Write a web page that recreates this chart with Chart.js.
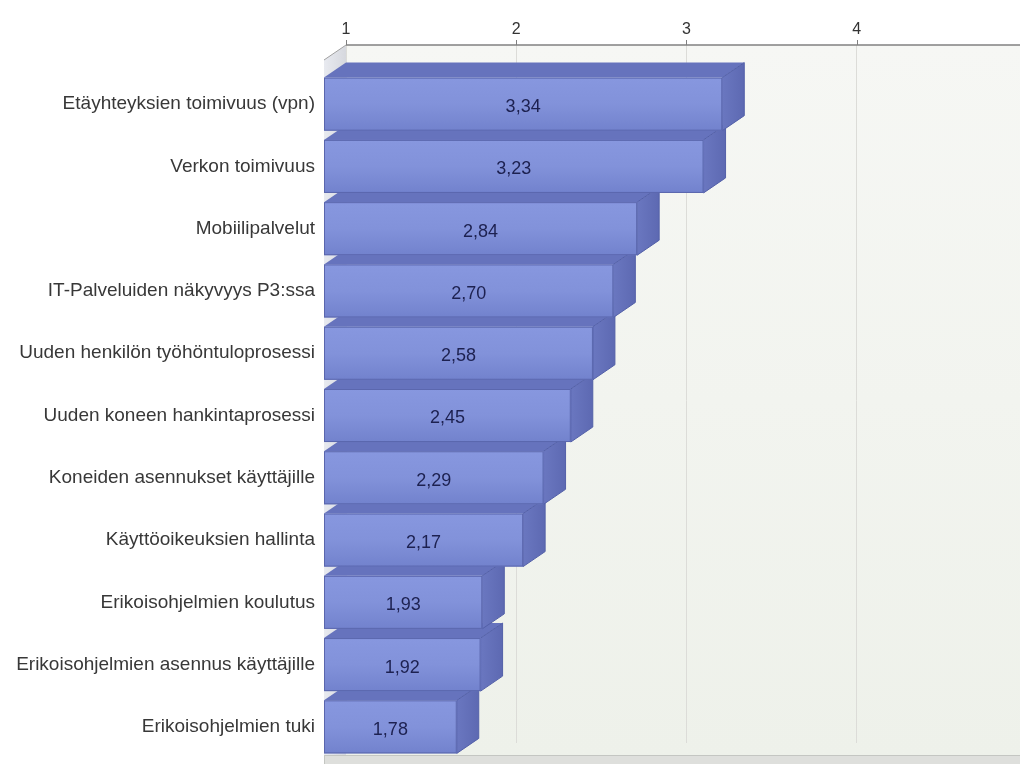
<!DOCTYPE html>
<html>
<head>
<meta charset="utf-8">
<script src="https://cdn.jsdelivr.net/npm/chart.js@4"></script>
<style>
  html, body { margin: 0; padding: 0; background: #fff; overflow: hidden; }
  #wrap { width: 1020px; height: 764px; }
</style>
</head>
<body>
<div id="wrap"><canvas id="chart"></canvas></div>
<script>
const categories = [
    'Etäyhteyksien toimivuus (vpn)',
    'Verkon toimivuus',
    'Mobiilipalvelut',
    'IT-Palveluiden näkyvyys P3:ssa',
    'Uuden henkilön työhöntuloprosessi',
    'Uuden koneen hankintaprosessi',
    'Koneiden asennukset käyttäjille',
    'Käyttöoikeuksien hallinta',
    'Erikoisohjelmien koulutus',
    'Erikoisohjelmien asennus käyttäjille',
    'Erikoisohjelmien tuki'
];
const scores = [3.34, 3.23, 2.84, 2.70, 2.58, 2.45, 2.29, 2.17, 1.93, 1.92, 1.78];
const tickValues = [1, 2, 3, 4];

// 3d depth of the bars (front face is shifted left/down)
const DX = 22, DY = 15;
const WALL_TOP = 13;

const fmt = v => v.toFixed(2).replace('.', ',');

const threeD = {
    id: 'threeD',
    beforeDraw(chart) {
        const { ctx, chartArea: a } = chart;
        const top = a.top - WALL_TOP;
        const floorY = a.bottom + 12;
        ctx.save();
        // back wall
        const bg = ctx.createLinearGradient(0, top, 0, floorY);
        bg.addColorStop(0, '#f6f7f4');
        bg.addColorStop(1, '#eef1ea');
        ctx.fillStyle = bg;
        ctx.fillRect(a.left, top, a.right - a.left, floorY - top);
        // left wall
        const lg = ctx.createLinearGradient(a.left - DX, 0, a.left, 0);
        lg.addColorStop(0, '#e8eaf0');
        lg.addColorStop(1, '#d6d8de');
        ctx.fillStyle = lg;
        ctx.beginPath();
        ctx.moveTo(a.left - DX, top + DY);
        ctx.lineTo(a.left, top);
        ctx.lineTo(a.left, floorY);
        ctx.lineTo(a.left - DX, floorY);
        ctx.closePath();
        ctx.fill();
        ctx.strokeStyle = '#a0a0a0';
        ctx.lineWidth = 1;
        ctx.beginPath();
        ctx.moveTo(a.left - DX, top + DY);
        ctx.lineTo(a.left, top);
        ctx.stroke();
        // floor strip
        ctx.fillStyle = '#dedfdc';
        ctx.fillRect(a.left - DX, floorY, a.right - a.left + DX, 30);
        ctx.strokeStyle = '#c4c6c2';
        ctx.beginPath();
        ctx.moveTo(a.left - DX, floorY + 0.5);
        ctx.lineTo(a.right, floorY + 0.5);
        ctx.moveTo(a.left - DX + 0.5, floorY);
        ctx.lineTo(a.left - DX + 0.5, floorY + 30);
        ctx.stroke();
        ctx.restore();
    },
    afterDatasetsDraw(chart) {
        const { ctx, chartArea: a } = chart;
        const xs = chart.scales.x;
        const top = a.top - WALL_TOP;
        const minPx = xs.getPixelForValue(xs.min);
        ctx.save();
        // axis line and small ticks
        ctx.strokeStyle = '#808080';
        ctx.lineWidth = 1.5;
        ctx.beginPath();
        ctx.moveTo(a.left, top);
        ctx.lineTo(a.right, top);
        ctx.stroke();
        ctx.lineWidth = 1;
        xs.ticks.forEach(t => {
            const px = Math.round(xs.getPixelForValue(t.value)) + 0.5;
            ctx.beginPath();
            ctx.moveTo(px, top - 5);
            ctx.lineTo(px, top);
            ctx.stroke();
        });

        const meta = chart.getDatasetMeta(0);
        const data = chart.data.datasets[0].data;
        for (let i = meta.data.length - 1; i >= 0; i--) {
            const p = meta.data[i].getProps(['x', 'y', 'base', 'height'], true);
            const x = p.x, base = Math.max(p.base, minPx);
            const bt = p.y - p.height / 2, bb = p.y + p.height / 2;
            const fl = base - DX, fr = x - DX, ft = bt + DY, fb = bb + DY;

            // top face
            ctx.fillStyle = '#6673bd';
            ctx.beginPath();
            ctx.moveTo(fl, ft);
            ctx.lineTo(base, bt);
            ctx.lineTo(x, bt);
            ctx.lineTo(fr, ft);
            ctx.closePath();
            ctx.fill();
            // right side
            const sg = ctx.createLinearGradient(fr, 0, x, 0);
            sg.addColorStop(0, '#6a77c0');
            sg.addColorStop(1, '#5d69b2');
            ctx.fillStyle = sg;
            ctx.beginPath();
            ctx.moveTo(fr, ft);
            ctx.lineTo(x, bt);
            ctx.lineTo(x, bb);
            ctx.lineTo(fr, fb);
            ctx.closePath();
            ctx.fill();
            ctx.strokeStyle = '#5360a8';
            ctx.stroke();
            // front face
            const fg = ctx.createLinearGradient(0, ft, 0, fb);
            fg.addColorStop(0, '#8797df');
            fg.addColorStop(0.5, '#8292da');
            fg.addColorStop(1, '#7282cd');
            ctx.fillStyle = fg;
            ctx.fillRect(fl, ft, fr - fl, fb - ft);
            ctx.strokeStyle = '#5a66ad';
            ctx.strokeRect(fl + 0.5, ft + 0.5, fr - fl - 1, fb - ft - 1);

            // value label
            ctx.fillStyle = '#1d2150';
            ctx.font = '18px "Liberation Sans", Arial, sans-serif';
            ctx.textAlign = 'center';
            ctx.textBaseline = 'middle';
            ctx.fillText(fmt(data[i]), (fl + fr) / 2, (ft + fb) / 2 + 3);
        }
        ctx.restore();
    }
};

new Chart(document.getElementById('chart'), {
    type: 'bar',
    data: {
        labels: categories,
        datasets: [{
            data: scores,
            backgroundColor: 'rgba(0,0,0,0)',
            borderWidth: 0,
            categoryPercentage: 1,
            barPercentage: 0.852
        }]
    },
    options: {
        indexAxis: 'y',
        responsive: true,
        maintainAspectRatio: false,
        animation: false,
        events: [],
        layout: { padding: { top: 0, left: 0, right: 0, bottom: 21 } },
        plugins: { legend: { display: false }, tooltip: { enabled: false } },
        scales: {
            x: {
                type: 'linear',
                position: 'top',
                min: 1,
                max: 4.96,
                ticks: {
                    stepSize: 1,
                    padding: 6,
                    color: '#333',
                    font: { family: '"Liberation Sans", Arial, sans-serif', size: 16 }
                },
                afterBuildTicks: s => {
                    s.ticks = tickValues.map(v => ({ value: v }));
                },
                grid: { color: '#dcdcd8', tickColor: '#dcdcd8', tickLength: 13 },
                border: { display: false },
                afterFit: s => { s.height = 58; }
            },
            y: {
                grid: { display: false, drawTicks: false },
                border: { display: false },
                ticks: {
                    padding: 31,
                    labelOffset: 15,
                    color: '#383838',
                    font: { family: '"Liberation Sans", Arial, sans-serif', size: 19 }
                },
                afterFit: s => {
                    s.width = 346;
                    s.paddingTop = 0;
                    s.paddingBottom = 0;
                }
            }
        }
    },
    plugins: [threeD]
});
</script>
</body>
</html>
